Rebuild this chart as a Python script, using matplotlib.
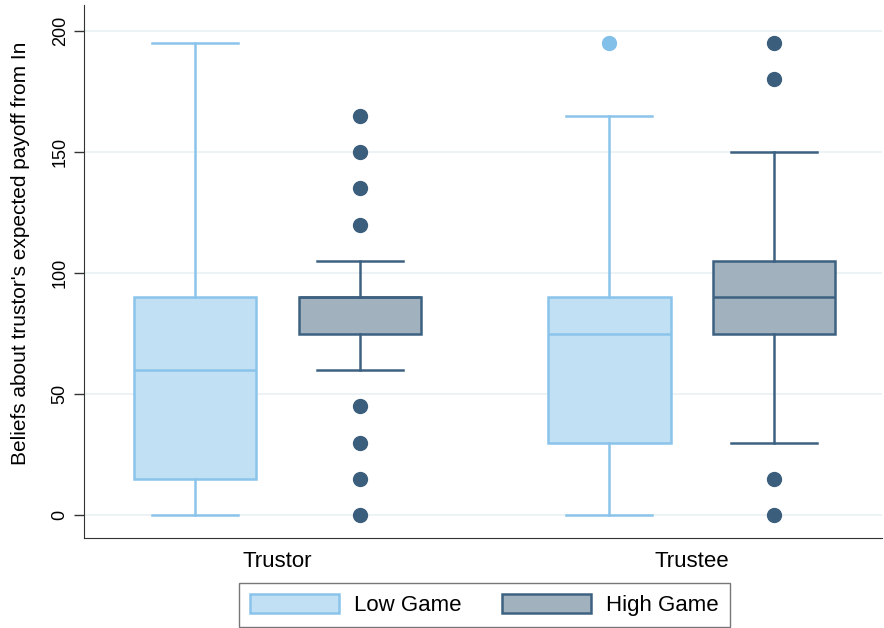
import matplotlib
matplotlib.use("Agg")
from matplotlib import pyplot as plt
from matplotlib.patches import Patch

groups = ["Trustor", "Trustee"]
games = ["Low Game", "High Game"]

# box summaries per group, Low then High
whislo = [[0, 60], [0, 30]]
q1 = [[15, 75], [30, 75]]
med = [[60, 90], [75, 90]]
q3 = [[90, 90], [90, 105]]
whishi = [[195, 105], [165, 150]]
fliers = [[[], [165, 150, 135, 120, 45, 30, 15, 0]],
          [[195], [195, 180, 15, 0]]]

fill = ["#c2e0f4", "#a1b1bd"]
edge = ["#8ac4ea", "#3d6180"]
dot = ["#82c0ea", "#3a5e7c"]

plt.rcParams['font.family'] = ['Liberation Sans', 'DejaVu Sans']

fig = plt.figure(figsize=(8.84, 6.28), dpi=100)
ax = fig.add_axes([0.095, 0.143, 0.903, 0.849])

offset = 0.199
width = 0.296
for gi in range(len(groups)):
    for k in range(len(games)):
        stats = [dict(whislo=whislo[gi][k], q1=q1[gi][k], med=med[gi][k],
                      q3=q3[gi][k], whishi=whishi[gi][k], fliers=fliers[gi][k])]
        pos = gi + (-offset if k == 0 else offset)
        ax.bxp(stats, positions=[pos], widths=width, patch_artist=True,
               capwidths=width * 0.7,
               boxprops=dict(facecolor=fill[k], edgecolor=edge[k], linewidth=1.8),
               medianprops=dict(color=edge[k], linewidth=1.8),
               whiskerprops=dict(color=edge[k], linewidth=1.8),
               capprops=dict(color=edge[k], linewidth=1.8),
               flierprops=dict(marker='o', markersize=10, markerfacecolor=dot[k],
                               markeredgecolor=dot[k]),
               zorder=3)

ax.set_xlim(-0.467, 1.46)
ax.set_ylim(-9.5, 210.7)
ax.set_xticks([0, 1])
ax.set_xticklabels(groups, fontsize=16)
ax.tick_params(axis='x', length=0, pad=9)
ax.set_yticks([0, 50, 100, 150, 200])
ax.set_yticklabels(["0", "50", "100", "150", "200"], rotation=90, va='center', fontsize=13)
ax.tick_params(axis='y', length=7, width=1, color='#333333', pad=4)
ax.yaxis.grid(True, color='#eaf0f3', linewidth=1.2, zorder=0)
ax.set_axisbelow(True)
for s in ['top', 'right']:
    ax.spines[s].set_visible(False)
for s in ['left', 'bottom']:
    ax.spines[s].set_color('#333333')
ax.set_ylabel("Beliefs about trustor's expected payoff from In", fontsize=15)
ax.yaxis.set_label_coords(-0.068, 0.535)

handles = [Patch(facecolor=fill[k], edgecolor=edge[k], linewidth=1.8, label=games[k])
           for k in range(len(games))]
leg = fig.legend(handles=handles, loc='upper center', bbox_to_anchor=(0.548, 0.072),
                 ncol=2, fontsize=16, frameon=True, fancybox=False,
                 handlelength=4.0, handleheight=0.95, handletextpad=0.7,
                 columnspacing=1.8, borderpad=0.5, borderaxespad=0,
                 edgecolor='#555555')
leg.get_frame().set_linewidth(1.0)

fig.savefig("out.png", dpi=100)
